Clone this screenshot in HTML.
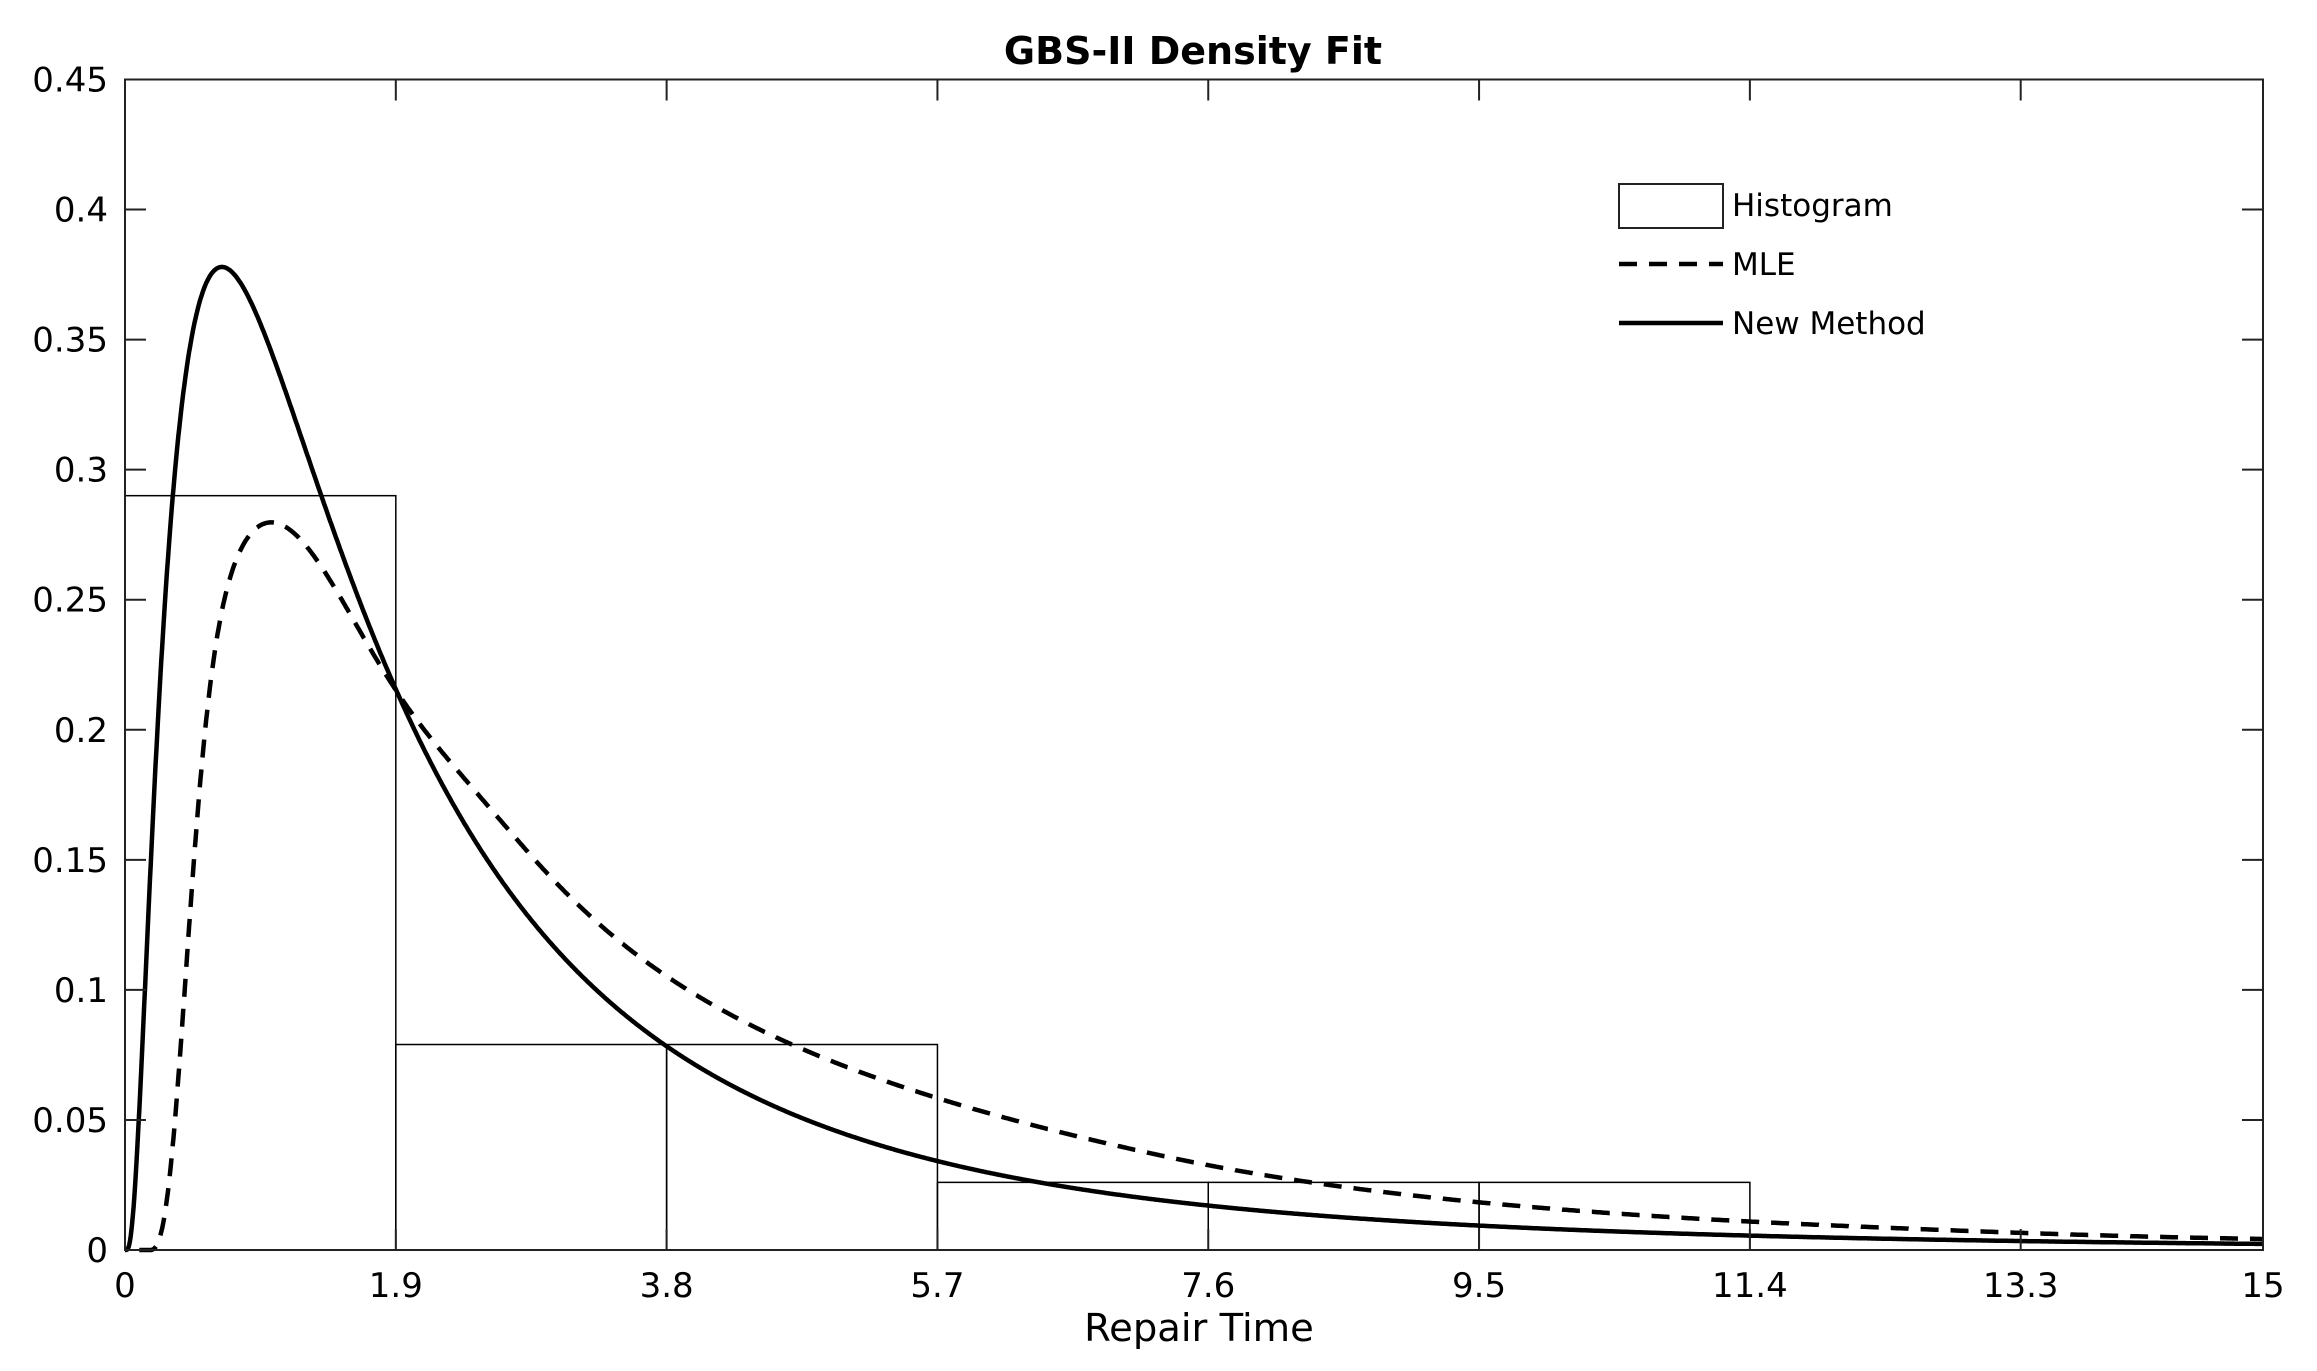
<!DOCTYPE html>
<html><head><meta charset="utf-8"><style>
html,body{margin:0;padding:0;background:#fff;}
svg{display:block;}
text{font-family:"DejaVu Sans","Liberation Sans",sans-serif;fill:#000;}
</style></head><body>
<svg id="s" width="2317" height="1371" viewBox="0 0 2317 1371" xmlns="http://www.w3.org/2000/svg">
<rect width="2317" height="1371" fill="#fff"/>
<g id="hist" fill="none" stroke="#000" stroke-width="1.5"></g>
<path id="mle" fill="none" stroke="#000" stroke-width="4.5" stroke-dasharray="18,12"/>
<path id="nm" fill="none" stroke="#000" stroke-width="4.5"/>
<rect x="125" y="79.5" width="2138" height="1170.5" fill="none" stroke="#222" stroke-width="2"/>
<g id="ticks" stroke="#222" stroke-width="2"></g>
<g id="labels" font-size="34"></g>
<text x="1193" y="64" font-size="38" font-weight="bold" text-anchor="middle">GBS-II Density Fit</text>
<text x="1199" y="1341" font-size="38.5" text-anchor="middle">Repair Time</text>
<rect x="1619" y="184" width="104" height="44" fill="#fff" stroke="#222" stroke-width="2"/>
<text x="1732" y="216" font-size="31">Histogram</text>
<line x1="1619" y1="264" x2="1723" y2="264" stroke="#000" stroke-width="4.5" stroke-dasharray="18,12"/>
<text x="1732" y="275" font-size="31">MLE</text>
<line x1="1619" y1="323" x2="1723" y2="323" stroke="#000" stroke-width="4.5"/>
<text x="1732" y="334" font-size="31">New Method</text>
</svg>
<script>
var X0=125,X1=2263,Y0=1250,Y1=79.5;
function px(x){return X0+(X1-X0)*x/15;}
function py(y){return Y0-(Y0-Y1)*y/0.45;}
var ns="http://www.w3.org/2000/svg";
function el(p,t,a){var e=document.createElementNS(ns,t);for(var k in a)e.setAttribute(k,a[k]);p.appendChild(e);return e;}
var h=document.getElementById('hist');
var bins=[[0,1.9,0.29],[1.9,3.8,0.079],[3.8,5.7,0.079],[5.7,7.6,0.026],[7.6,9.5,0.026],[9.5,11.4,0.026]];
bins.forEach(function(b){el(h,'rect',{x:px(b[0]),y:py(b[2]),width:px(b[1])-px(b[0]),height:Y0-py(b[2])});});
function ln(x,m,s){if(x<=0)return 0;var z=(Math.log(x)-m)/s;return Math.exp(-z*z/2)/(x*s*Math.sqrt(2*Math.PI));}
function ss(t){t=Math.max(0,Math.min(1,t));return t*t*(3-2*t);}
function path(f,x0){var d='',first=true;for(var i=0;i<=3000;i++){var x=i*0.005;if(x<x0)continue;d+=(first?'M':'L')+px(x).toFixed(1)+','+py(f(x)).toFixed(1);first=false;}return d;}
document.getElementById('nm').setAttribute('d',path(function(x){return ln(x,0.555,0.97);},0));
document.getElementById('mle').setAttribute('d',path(function(x){
 if(x<0.18)return 0;
 var l=1-Math.exp(-Math.pow((x-0.18)/0.25,2));
 var g=1+0.3*ss((x-2.8)/4.5)-0.12*ss((x-12)/3)-0.05*Math.exp(-Math.pow((x-1.9)/0.6,2));
 return ln(x,0.859,0.9)*l*g;},0.1));
var t=document.getElementById('ticks'),L=document.getElementById('labels');
var xt=['0','1.9','3.8','5.7','7.6','9.5','11.4','13.3','15'];
xt.forEach(function(s){var x=px(parseFloat(s));el(t,'line',{x1:x,y1:Y0,x2:x,y2:Y0-21});el(t,'line',{x1:x,y1:Y1,x2:x,y2:Y1+21});
var e=el(L,'text',{x:x,y:1297,'text-anchor':'middle'});e.textContent=s;});
var yt=['0','0.05','0.1','0.15','0.2','0.25','0.3','0.35','0.4','0.45'];
yt.forEach(function(s){var y=py(parseFloat(s));el(t,'line',{x1:X0,y1:y,x2:X0+21,y2:y});el(t,'line',{x1:X1,y1:y,x2:X1-21,y2:y});
var e=el(L,'text',{x:108,y:y+12,'text-anchor':'end'});e.textContent=s;});
</script>
</body></html>
